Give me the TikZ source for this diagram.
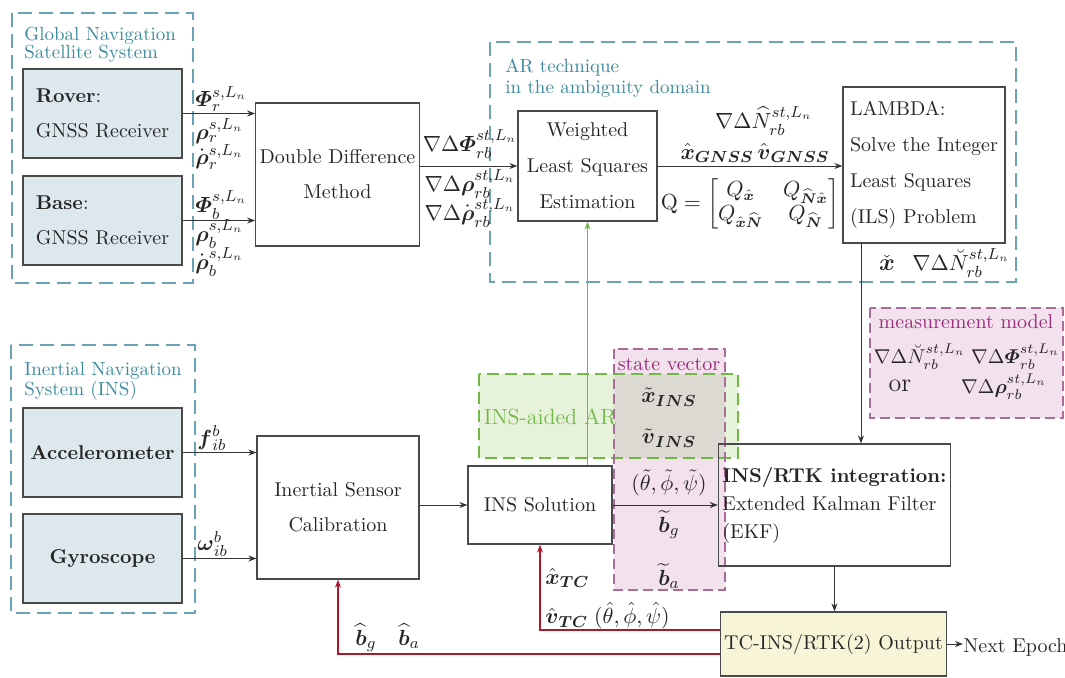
\documentclass[tikz,border=0pt]{standalone}
\usepackage{amsmath}
\usepackage{amssymb}
\usetikzlibrary{arrows.meta}
\definecolor{tealline}{HTML}{6AA3B5}
\definecolor{tealtext}{HTML}{3B8A9E}
\definecolor{boxgray}{HTML}{4A4A4A}
\definecolor{sensorfill}{HTML}{DDE7EE}
\definecolor{aidgreen}{HTML}{72B847}
\definecolor{aidfill}{HTML}{E7F2DA}
\definecolor{statepink}{HTML}{F3E1EE}
\definecolor{stateline}{HTML}{A86E99}
\definecolor{statetext}{HTML}{9A2C7E}
\definecolor{overlapgray}{HTML}{DCD9D2}
\definecolor{outyellow}{HTML}{F8F4D8}
\definecolor{fbred}{HTML}{B0172B}
\tikzset{
	blk/.style={draw=boxgray, line width=0.6pt, inner sep=2pt, align=center, text=black!85,
		font=\fontsize{10}{17.5}\selectfont},
	sensor/.style={blk, fill=sensorfill},
	grp/.style={draw=tealline, line width=0.6pt, dash pattern=on 7pt off 3.5pt},
	grptitle/.style={anchor=north west, align=left, text=tealtext, inner sep=0pt,
		font=\fontsize{9.5}{9}\selectfont},
	gdash/.style={draw=aidgreen, line width=0.6pt, dash pattern=on 6pt off 3pt},
	pdash/.style={draw=stateline, line width=0.6pt, dash pattern=on 5pt off 2.5pt},
	lbl/.style={inner sep=0pt, text=black!85, font=\fontsize{11}{13}\selectfont},
	arr/.style={-{Stealth[length=4pt,width=3pt]}, line width=0.5pt, draw=black!80},
	garr/.style={arr, draw=aidgreen, line width=0.9pt},
	rarr/.style={arr, draw=fbred, line width=0.8pt}
}
\begin{document}
\begin{tikzpicture}[x=0.5pt, y=-0.5pt, font=\fontsize{10}{12}\selectfont]
	\useasboundingbox (0,0) rectangle (1065,677);
	% dashed frames of the three systems
	\draw[grp] (12,13) rectangle (193,283);
	\draw[grp] (11,345) rectangle (195,613);
	\draw[grp] (490,42) rectangle (1016,282);
	% INS-aided AR, state vector, measurement model
	\fill[aidfill] (479,374) rectangle (738,458);
	\fill[statepink] (614,349) rectangle (725,590);
	\fill[overlapgray] (614,374) rectangle (725,458);
	\fill[statepink] (870,308) rectangle (1063,418);
	\draw[gdash] (479,374) rectangle (738,458);
	\draw[pdash] (614,349) rectangle (725,590);
	\draw[pdash] (870,308) rectangle (1063,418);
	% titles
	\node[grptitle] (gnsstitle) at (24,27) {Global Navigation\\Satellite System};
	\node[grptitle] (institle) at (24,362) {Inertial Navigation\\System (INS)};
	\node[grptitle, font=\fontsize{9.5}{10.5}\selectfont] (artitle) at (505,58) {AR technique\\in the ambiguity domain};
	\node[lbl, text=aidgreen] (aidtitle) at (550,417) {INS-aided AR};
	\node[lbl, text=statetext, font=\fontsize{10}{12}\selectfont] (statetitle) at (669,364) {state vector};
	\node[lbl, text=statetext, font=\fontsize{10}{12}\selectfont] (mmtitle) at (966,322) {measurement model};
	% blocks
	\node[sensor, align=left, minimum width=79.5pt, minimum height=44.5pt] (rover) at (102.5,113.5) {\textbf{Rover}:\\GNSS Receiver};
	\node[sensor, align=left, minimum width=79.5pt, minimum height=44.5pt] (base) at (102.5,220.5) {\textbf{Base}:\\GNSS Receiver};
	\node[sensor, minimum width=79.5pt, minimum height=44.5pt] (acc) at (102.5,452.5) {\textbf{Accelerometer}};
	\node[sensor, minimum width=79.5pt, minimum height=44.5pt] (gyro) at (102.5,558.5) {\textbf{Gyroscope}};
	\node[blk, minimum width=81.5pt, minimum height=71.5pt] (dd) at (337.5,174.5) {Double Difference\\Method};
	\node[blk, minimum width=69.5pt, minimum height=55pt, font=\fontsize{10}{18}\selectfont] (wls) at (587.5,166) {Weighted\\Least Squares\\Estimation};
	\node[blk, align=left, minimum width=81pt, minimum height=78pt, font=\fontsize{10}{18}\selectfont] (lambda) at (924,165) {LAMBDA:\\Solve the Integer\\Least Squares\\(ILS) Problem};
	\node[blk, minimum width=81pt, minimum height=71.5pt] (isc) at (338,507.5) {Inertial Sensor\\Calibration};
	\node[blk, fill=white, minimum width=72pt, minimum height=39pt] (inssol) at (540,505) {INS Solution};
	\node[blk, align=left, minimum width=115.5pt, minimum height=61pt, font=\fontsize{10}{14}\selectfont] (ekf) at (834.5,505) {\textbf{INS/RTK integration:}\\Extended Kalman Filter\\(EKF)};
	\node[blk, fill=outyellow, minimum width=102.5pt, minimum height=32pt] (tc) at (833.5,644) {TC-INS/RTK(2) Output};
	\node[lbl, anchor=west, font=\fontsize{10}{12}\selectfont] (next) at (963,647) {Next Epoch};
	% observation labels
	\node[lbl, anchor=west] (phir) at (195,99) {$\boldsymbol{\varPhi}_r^{s,L_n}$};
	\node[lbl, anchor=west] (rhor) at (195,131) {$\boldsymbol{\rho}_r^{s,L_n}$};
	\node[lbl, anchor=west] (rhodr) at (195,157) {$\dot{\boldsymbol{\rho}}_r^{s,L_n}$};
	\node[lbl, anchor=west] (phib) at (195,205) {$\boldsymbol{\varPhi}_b^{s,L_n}$};
	\node[lbl, anchor=west] (rhob) at (195,234) {$\boldsymbol{\rho}_b^{s,L_n}$};
	\node[lbl, anchor=west] (rhodb) at (195,262) {$\dot{\boldsymbol{\rho}}_b^{s,L_n}$};
	\node[lbl] (ddphi) at (470,144) {$\nabla\Delta\boldsymbol{\varPhi}_{rb}^{st,L_n}$};
	\node[lbl] (ddrho) at (470,184) {$\nabla\Delta\boldsymbol{\rho}_{rb}^{st,L_n}$};
	\node[lbl] (ddrhod) at (470,213) {$\nabla\Delta\dot{\boldsymbol{\rho}}_{rb}^{st,L_n}$};
	\node[lbl] (nfloat) at (764,121) {$\nabla\Delta\widehat{N}_{rb}^{st,L_n}$};
	\node[lbl] (xvgnss) at (755,153) {$\hat{\boldsymbol{x}}_{\boldsymbol{GNSS}}\,\hat{\boldsymbol{v}}_{\boldsymbol{GNSS}}$};
	\node[lbl, font=\fontsize{10.5}{12}\selectfont] (qmat) at (750,204) {$\mathrm{Q}=\begin{bmatrix} Q_{\hat{\boldsymbol{x}}} & Q_{\widehat{\boldsymbol{N}}\hat{\boldsymbol{x}}}\\ Q_{\hat{\boldsymbol{x}}\widehat{\boldsymbol{N}}} & Q_{\widehat{\boldsymbol{N}}}\end{bmatrix}$};
	\node[lbl, font=\fontsize{12}{12}\selectfont] (xfix) at (887,263) {$\check{\boldsymbol{x}}$};
	\node[lbl, anchor=west] (nfix) at (912,263) {$\nabla\Delta\breve{N}_{rb}^{st,L_n}$};
	\node[lbl, font=\fontsize{10}{12}\selectfont] (mmrow) at (967,357) {$\nabla\Delta\breve{N}_{rb}^{st,L_n}\;\nabla\Delta\boldsymbol{\varPhi}_{rb}^{st,L_n}$};
	\node[lbl, font=\fontsize{13}{13}\selectfont] (mmor) at (900,386) {or};
	\node[lbl, font=\fontsize{10}{12}\selectfont] (mmrho) at (1004,387) {$\nabla\Delta\boldsymbol{\rho}_{rb}^{st,L_n}$};
	% INS labels
	\node[lbl, anchor=west] (fib) at (197,438) {$\boldsymbol{f}_{ib}^{b}$};
	\node[lbl, anchor=west] (wib) at (197,544) {$\boldsymbol{\omega}_{ib}^{b}$};
	\node[lbl] (xins) at (669,397) {$\tilde{\boldsymbol{x}}_{\boldsymbol{INS}}$};
	\node[lbl] (vins) at (669,438) {$\tilde{\boldsymbol{v}}_{\boldsymbol{INS}}$};
	\node[lbl] (attins) at (669,483) {$(\tilde{\theta},\tilde{\phi},\tilde{\psi})$};
	\node[lbl] (bgins) at (669,525) {$\widetilde{\boldsymbol{b}}_{g}$};
	\node[lbl] (bains) at (669,576) {$\widetilde{\boldsymbol{b}}_{a}$};
	\node[lbl, anchor=west] (xtc) at (545,578) {$\hat{\boldsymbol{x}}_{\boldsymbol{TC}}$};
	\node[lbl, anchor=west] (vtc) at (545,616) {$\hat{\boldsymbol{v}}_{\boldsymbol{TC}}\;(\hat{\theta},\hat{\phi},\hat{\psi})$};
	\node[lbl, anchor=west] (btc) at (355,638) {$\widehat{\boldsymbol{b}}_{g}\quad\widehat{\boldsymbol{b}}_{a}$};
	% connectors
	\coordinate (lamout) at (861,243);
	\draw[arr] (rover.east) -- (dd.west |- rover.east);
	\draw[arr] (base.east) -- (dd.west |- base.east);
	\draw[arr] (dd.east |- wls.west) -- (wls.west);
	\draw[arr] (wls.east) -- (lambda.west |- wls.east);
	\draw[arr] (lamout) -- (lamout |- ekf.north);
	\draw[arr] (acc.east) -- (isc.west |- acc.east);
	\draw[arr] (gyro.east) -- (isc.west |- gyro.east);
	\draw[arr] (isc.east |- inssol.west) -- (inssol.west);
	\draw[arr] (inssol.east) -- (ekf.west |- inssol.east);
	\draw[arr] (ekf.south) -- (ekf.south |- tc.north);
	\draw[arr] (tc.east) -- (next.west |- tc.east);
	\draw[garr] (inssol.north -| wls.south) -- (wls.south);
	\draw[rarr] ([yshift=7pt]tc.west) -| (inssol.south);
	\draw[rarr] ([yshift=-5pt]tc.west) -| (isc.south);
\end{tikzpicture}
\end{document}
